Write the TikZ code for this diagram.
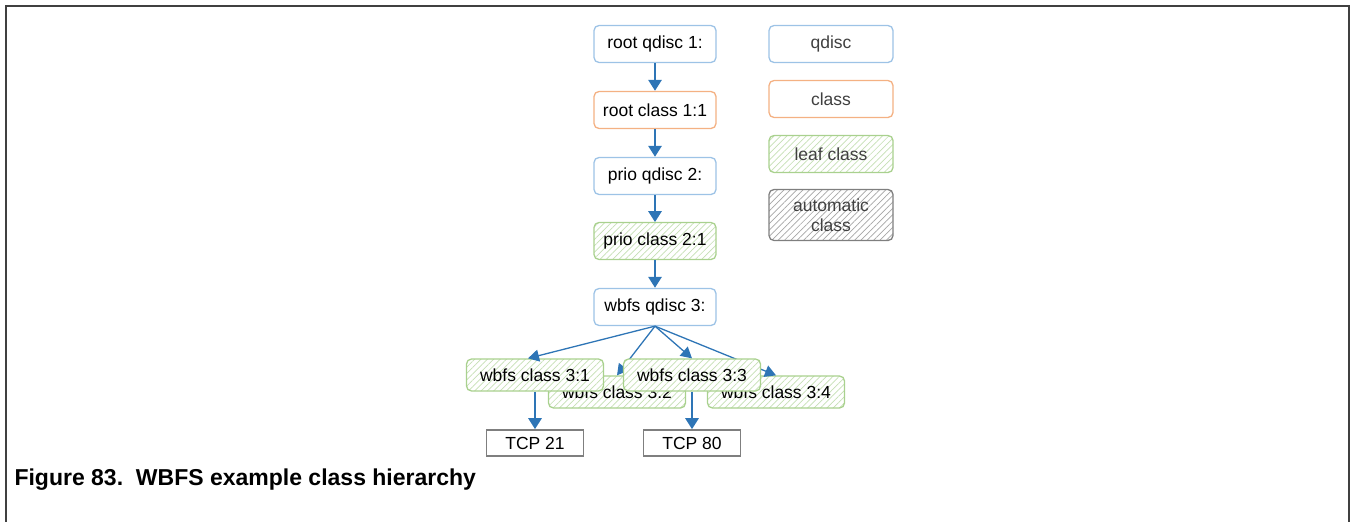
\documentclass[tikz,border=0pt]{standalone}
\usepackage{fontspec}
\setmainfont{Liberation Sans}
\usepackage{tikz}
\usetikzlibrary{arrows.meta,positioning,patterns.meta}

\definecolor{qdblue}{HTML}{9DC3E6}
\definecolor{clorange}{HTML}{F4B183}
\definecolor{leafgreen}{HTML}{A9D18E}
\definecolor{hatchgreen}{HTML}{C5E0B4}
\definecolor{boxgray}{HTML}{7F7F7F}
\definecolor{hatchgray}{HTML}{A6A6A6}
\definecolor{arrowblue}{HTML}{2E75B6}
\definecolor{framegray}{HTML}{404040}

\begin{document}
\begin{tikzpicture}[x=1pt, y=-1pt,
  base/.style={draw, rounded corners=5pt, line width=1.3pt, inner sep=0pt, align=center,
    minimum width=122pt, minimum height=37pt, font=\fontsize{17.5}{20}\selectfont},
  qdisc/.style={base, draw=qdblue, fill=white},
  cls/.style={base, draw=clorange, fill=white},
  leaf/.style={base, draw=leafgreen, preaction={fill=white},
    pattern={Lines[angle=45, distance=4.5pt, line width=0.7pt]}, pattern color=hatchgreen},
  autocls/.style={base, draw=boxgray, preaction={fill=white},
    pattern={Lines[angle=45, distance=4.5pt, line width=0.7pt]}, pattern color=hatchgray},
  legend/.style={minimum width=124pt, text=framegray},
  wclass/.style={leaf, minimum width=137pt, minimum height=32pt},
  tcp/.style={draw=boxgray, line width=1.6pt, fill=white, inner sep=0pt,
    minimum width=97pt, minimum height=26pt, font=\fontsize{17.5}{20}\selectfont},
  link/.style={draw=arrowblue, line width=2.8pt, -{Triangle[length=11pt, width=13pt]}},
  fan/.style={draw=arrowblue, line width=1.3pt, -{Triangle[length=11pt, width=12pt]}}
]
\useasboundingbox (0,0) rectangle (1353,522);
\draw[framegray, line width=2.2pt] (6,522) -- (6,6) -- (1349,6) -- (1349,522);

\node[qdisc] (rq1) at (655,44) {root qdisc 1:};
\node[cls] (rc11) at (655,110) {root class 1:1};
\node[qdisc] (pq2) at (655,176) {prio qdisc 2:};
\node[leaf] (pc21) at (655,241) {prio class 2:1};
\node[qdisc] (wq3) at (655,307) {wbfs qdisc 3:};

\node[qdisc, legend] (lgq) at (831,44) {qdisc};
\node[cls, legend] (lgc) at (831,99) {class};
\node[leaf, legend] (lgl) at (831,154) {leaf class};
\node[autocls, legend, minimum height=51pt] (lga) at (831,215) {automatic\\class};

\draw[link] (rq1) -- (rc11);
\draw[link] (rc11) -- (pq2);
\draw[link] (pq2) -- (pc21);
\draw[link] (pc21) -- (wq3);

\node[wclass] (w32) at (617,392) {wbfs class 3:2};
\node[wclass] (w34) at (776,392) {wbfs class 3:4};

\draw[fan] (wq3.south) -- (w32.north);
\draw[fan] (wq3.south) -- (w34.north);

\node[wclass] (w31) at (535,375) {wbfs class 3:1};
\node[wclass] (w33) at (692,375) {wbfs class 3:3};

\draw[fan] (wq3.south) -- ([xshift=-7pt]w31.north);
\draw[fan] (wq3.south) -- (w33.north);

\node[tcp] (t21) at (535,443) {TCP 21};
\node[tcp] (t80) at (692,443) {TCP 80};

\draw[link] (w31) -- (t21);
\draw[link] (w33) -- (t80);

\node[anchor=base west, font=\fontsize{23}{26}\selectfont\bfseries] (cap) at (11,485)
  {Figure 83.\ \ WBFS example class hierarchy};
\end{tikzpicture}
\end{document}
